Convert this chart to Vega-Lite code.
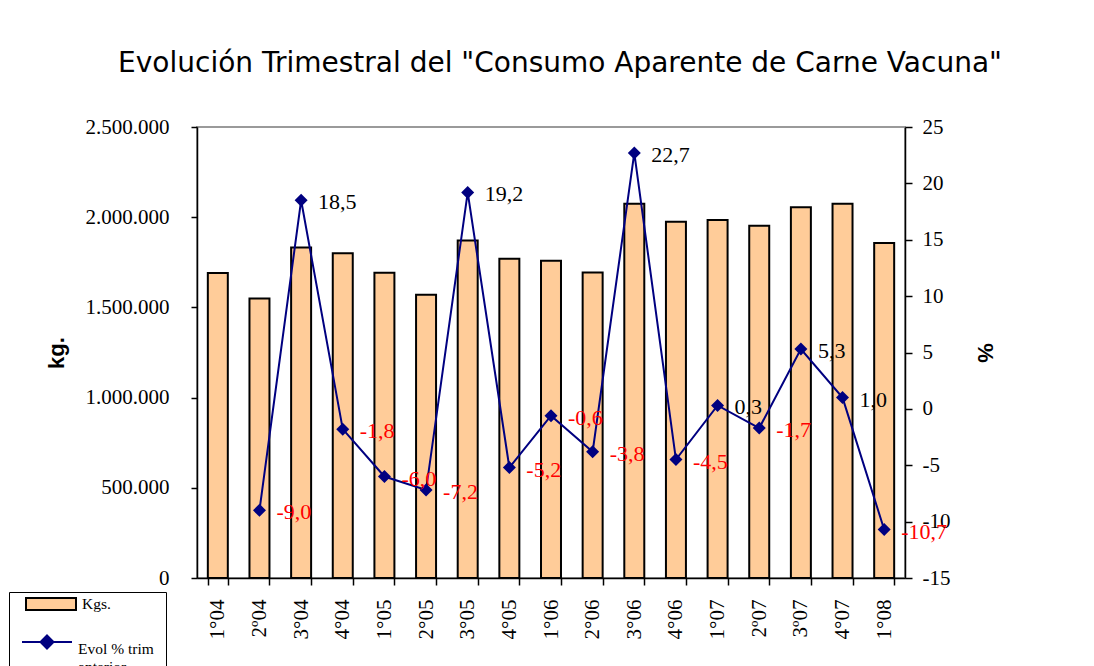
{
  "$schema": "https://vega.github.io/schema/vega-lite/v6.json",
  "autosize": "none",
  "width": 708,
  "height": 451,
  "padding": {"left": 197, "top": 127, "right": 189, "bottom": 88},
  "background": "white",
  "config": {
    "locale": {"number": {"decimal": ",", "thousands": ".", "grouping": [3], "currency": ["$", ""], "minus": "-"}},
    "view": {"stroke": "#9a9a9a", "strokeWidth": 2},
    "axis": {"labelFont": "Liberation Serif", "labelFontSize": 21, "labelColor": "black", "domainColor": "black", "tickColor": "black", "domainWidth": 1.5, "tickWidth": 1.5, "grid": false, "titleFont": "Liberation Sans", "titleFontWeight": "bold", "titleFontSize": 22, "titleColor": "black"},
    "legend": {"labelFont": "Liberation Serif", "labelFontSize": 15.5, "labelColor": "black", "symbolSize": 2500, "labelOffset": 5, "symbolStrokeWidth": 2, "symbolOpacity": 1}
  },
  "title": {"text": "Evolución Trimestral del \"Consumo Aparente de Carne Vacuna\"", "font": "DejaVu Sans", "fontSize": 28, "fontWeight": "normal", "color": "black", "anchor": "middle", "offset": 38, "dx": 9},
  "data": {"values": [
    {"q": "1°04", "kgs": 1690000, "evol": null},
    {"q": "2º04", "kgs": 1550000, "evol": -9.0},
    {"q": "3°04", "kgs": 1832000, "evol": 18.5},
    {"q": "4°04", "kgs": 1800000, "evol": -1.8},
    {"q": "1°05", "kgs": 1692000, "evol": -6.0},
    {"q": "2°05", "kgs": 1570000, "evol": -7.2},
    {"q": "3°05", "kgs": 1871000, "evol": 19.2},
    {"q": "4°05", "kgs": 1770000, "evol": -5.2},
    {"q": "1°06", "kgs": 1759000, "evol": -0.6},
    {"q": "2°06", "kgs": 1693000, "evol": -3.8},
    {"q": "3°06", "kgs": 2075000, "evol": 22.7},
    {"q": "4°06", "kgs": 1975000, "evol": -4.5},
    {"q": "1°07", "kgs": 1985000, "evol": 0.3},
    {"q": "2º07", "kgs": 1953000, "evol": -1.7},
    {"q": "3º07", "kgs": 2055000, "evol": 5.3},
    {"q": "4°07", "kgs": 2075000, "evol": 1.0},
    {"q": "1°08", "kgs": 1857000, "evol": -10.7}
  ]},
  "encoding": {
    "x": {"field": "q", "type": "nominal", "sort": null, "scale": {"paddingInner": 0.52, "paddingOuter": 0.26},
      "axis": {"title": null, "labelAngle": -90, "labelAlign": "right", "labelBaseline": "middle", "tickBand": "extent", "tickSize": 7, "labelPadding": 14}}
  },
  "layer": [
    {
      "mark": {"type": "bar", "stroke": "black", "strokeWidth": 2},
      "encoding": {
        "y": {"field": "kgs", "type": "quantitative", "scale": {"domain": [0, 2500000]},
          "axis": {"title": "kg.", "format": ",d", "values": [0, 500000, 1000000, 1500000, 2000000, 2500000], "tickSize": 6, "labelPadding": 22, "titlePadding": 17}},
        "fill": {"datum": "Kgs.", "type": "nominal",
          "scale": {"domain": ["Kgs."], "range": ["#FFCC99"]},
          "legend": {"title": null, "orient": "none", "legendX": -172, "legendY": 451, "padding": 0,
            "symbolType": "M-1,-0.24H1V0.24H-1Z", "symbolStrokeColor": "black"}
        }
      }
    },
    {
      "mark": {"type": "line", "strokeWidth": 2},
      "encoding": {
        "y": {"field": "evol", "type": "quantitative", "scale": {"domain": [-15, 25]},
          "axis": {"title": "%", "orient": "right", "values": [-15, -10, -5, 0, 5, 10, 15, 20, 25], "tickSize": 7, "labelPadding": 10, "titlePadding": 23}},
        "stroke": {"datum": "Evol % trim anterior", "type": "nominal",
          "scale": {"domain": ["Evol % trim anterior"], "range": ["#000080"]},
          "legend": {"title": " ", "titleFontSize": 12, "titlePadding": 0, "orient": "none", "legendX": -188, "legendY": 465, "padding": 12,
            "strokeColor": "black", "symbolType": "M-1,0H1M0,-0.26L0.26,0L0,0.26L-0.26,0Z", "symbolFillColor": "#000080",
            "labelBaseline": "top",
            "labelExpr": "['Evol % trim', 'anterior']",
            "encode": {"labels": {"dy": {"value": -16}}}}
        }
      }
    },
    {
      "mark": {"type": "point", "filled": true, "shape": "diamond", "size": 169, "opacity": 1, "color": "#000080"},
      "encoding": {
        "y": {"field": "evol", "type": "quantitative", "scale": {"domain": [-15, 25]}, "axis": null}
      }
    },
    {
      "mark": {"type": "text", "align": "left", "baseline": "middle", "dx": 17, "dy": 2, "font": "Liberation Serif", "fontSize": 22},
      "encoding": {
        "y": {"field": "evol", "type": "quantitative", "scale": {"domain": [-15, 25]}, "axis": null},
        "text": {"field": "evol", "type": "quantitative", "format": ".1f"},
        "color": {"condition": {"test": "datum.evol < 0", "value": "#FF0000"}, "value": "black"}
      }
    }
  ],
  "resolve": {"scale": {"y": "independent"}, "axis": {"y": "independent"}}
}
